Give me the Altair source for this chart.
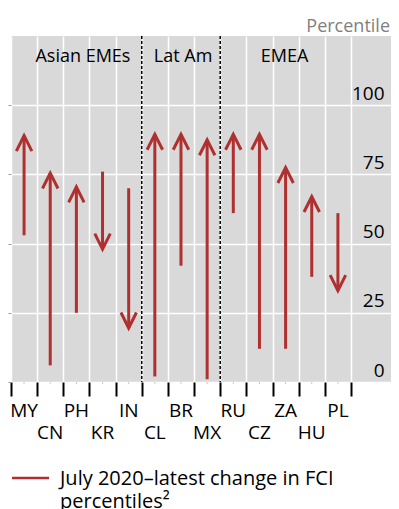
import altair as alt
import pandas as pd

countries = ["MY", "CN", "PH", "KR", "IN", "CL", "BR", "MX", "RU", "CZ", "ZA", "HU", "PL"]
start_pct = [53, 6, 25, 76, 70, 2, 42, 1, 61, 12, 12, 38, 61]
latest_pct = [89, 75.5, 70.5, 48, 19.5, 89.5, 89.5, 87.5, 89.5, 89.5, 77.5, 67, 33]
groups = ["Asian EMEs", "Lat Am", "EMEA"]
group_label_pos = [2.75, 6.58, 10.46]
group_dividers = [5, 8]
y_ticks = [0, 25, 50, 75, 100]
y_unit = ["Percentile"]
legend_text = ["July 2020–latest change in FCI", "percentiles²"]

RED = "#B03030"
FONT = "Open Sans"
FS = 18
W, H = 380, 346
XMAX = 14.53
YMAX = 125

df = pd.DataFrame({"country": countries, "start": start_pct, "latest": latest_pct})
df["pos"] = [i + 0.5 for i in range(len(countries))]
df["row"] = [i % 2 for i in range(len(countries))]
df["dir"] = ["up" if l > s else "down" for s, l in zip(start_pct, latest_pct)]

xs = alt.Scale(domain=[0, XMAX], nice=False, zero=False)
ys = alt.Scale(domain=[0, YMAX], nice=False, zero=False)

xaxis = alt.Axis(values=list(range(len(countries) + 1)), grid=True, gridColor="white",
                 gridWidth=1.5, ticks=True, tickSize=14, tickColor="black", tickWidth=2,
                 labels=False, domain=False, title=None)

base = alt.Chart(df)

rules = base.mark_rule(color=RED, strokeWidth=3).encode(
    x=alt.X("pos:Q", scale=xs, axis=xaxis),
    y=alt.Y("start:Q", scale=ys,
            axis=alt.Axis(orient="left", values=y_ticks, grid=True, gridColor="white",
                          gridWidth=1.5, labels=False, tickSize=3, tickColor="#9a9a9a",
                          domain=False, title=None)),
    y2="latest:Q",
)

up_path = "M -1 2 L 0 0 L 1 2"
down_path = "M -1 -2 L 0 0 L 1 -2"

heads = base.mark_point(filled=False, strokeWidth=3, color=RED, opacity=1, size=240,
                        strokeJoin="miter").encode(
    x=alt.X("pos:Q", scale=xs, axis=xaxis),
    y=alt.Y("latest:Q", scale=ys,
            axis=alt.Axis(orient="right", values=y_ticks, grid=False, ticks=False,
                          tickSize=0, domain=False, labels=True, labelAlign="right",
                          labelPadding=-7, labelBaseline="alphabetic", labelOffset=-6,
                          labelFontSize=FS + 1, labelColor="black", labelFont=FONT,
                          title=None)),
    shape=alt.Shape("dir:N", scale=alt.Scale(domain=["up", "down"], range=[up_path, down_path]),
                    legend=None),
)

minor = base.mark_rule(color="#c8c8c8", strokeWidth=1).encode(
    x=alt.X("pos:Q", scale=xs, axis=xaxis),
    y=alt.value(H), y2=alt.value(H + 2),
)

dividers = alt.Chart(pd.DataFrame({"d": group_dividers})).mark_rule(
    color="black", strokeWidth=1.5, strokeDash=[3, 2]).encode(
    x=alt.X("d:Q", scale=xs, axis=xaxis),
    y=alt.value(0), y2=alt.value(H),
)

group_txt = alt.Chart(pd.DataFrame({"g": groups, "p": group_label_pos})).mark_text(
    font=FONT, fontSize=FS, color="black", baseline="alphabetic", align="center").encode(
    x=alt.X("p:Q", scale=xs, axis=xaxis),
    y=alt.value(26),
    text="g:N",
)

lab1 = base.transform_filter("datum.row == 0").mark_text(
    font=FONT, fontSize=FS + 1, color="black", baseline="alphabetic", align="center").encode(
    x=alt.X("pos:Q", scale=xs, axis=xaxis), y=alt.value(H + 35), text="country:N")
lab2 = base.transform_filter("datum.row == 1").mark_text(
    font=FONT, fontSize=FS + 1, color="black", baseline="alphabetic", align="center").encode(
    x=alt.X("pos:Q", scale=xs, axis=xaxis), y=alt.value(H + 57), text="country:N")

unit = alt.Chart(pd.DataFrame({"u": y_unit})).mark_text(
    font=FONT, fontSize=FS, color="#7f7f7f", align="right", baseline="alphabetic").encode(
    x=alt.value(W - 1), y=alt.value(-4), text="u:N")

leg_df = pd.DataFrame({"t": [legend_text]})
leg_line = alt.Chart(leg_df).mark_rule(color=RED, strokeWidth=2.5).encode(
    x=alt.value(1), x2=alt.value(38), y=alt.value(442))
leg_txt = alt.Chart(leg_df).mark_text(
    font=FONT, fontSize=FS + 2, color="black", align="left", baseline="alphabetic",
    lineHeight=23).encode(x=alt.value(49), y=alt.value(449), text=alt.value(legend_text))

chart = alt.layer(
    rules, dividers, minor, heads, group_txt, lab1, lab2, unit, leg_line, leg_txt
).resolve_axis(y="independent").properties(
    width=W, height=H,
    autosize=alt.AutoSizeParams(type="none"),
    padding={"left": 3, "top": 28, "right": 0, "bottom": 127},
).configure(background="white").configure_view(stroke=None, fill="#D9D9D9")

chart.save("out.html", embed_options={"renderer": "svg", "actions": False})
